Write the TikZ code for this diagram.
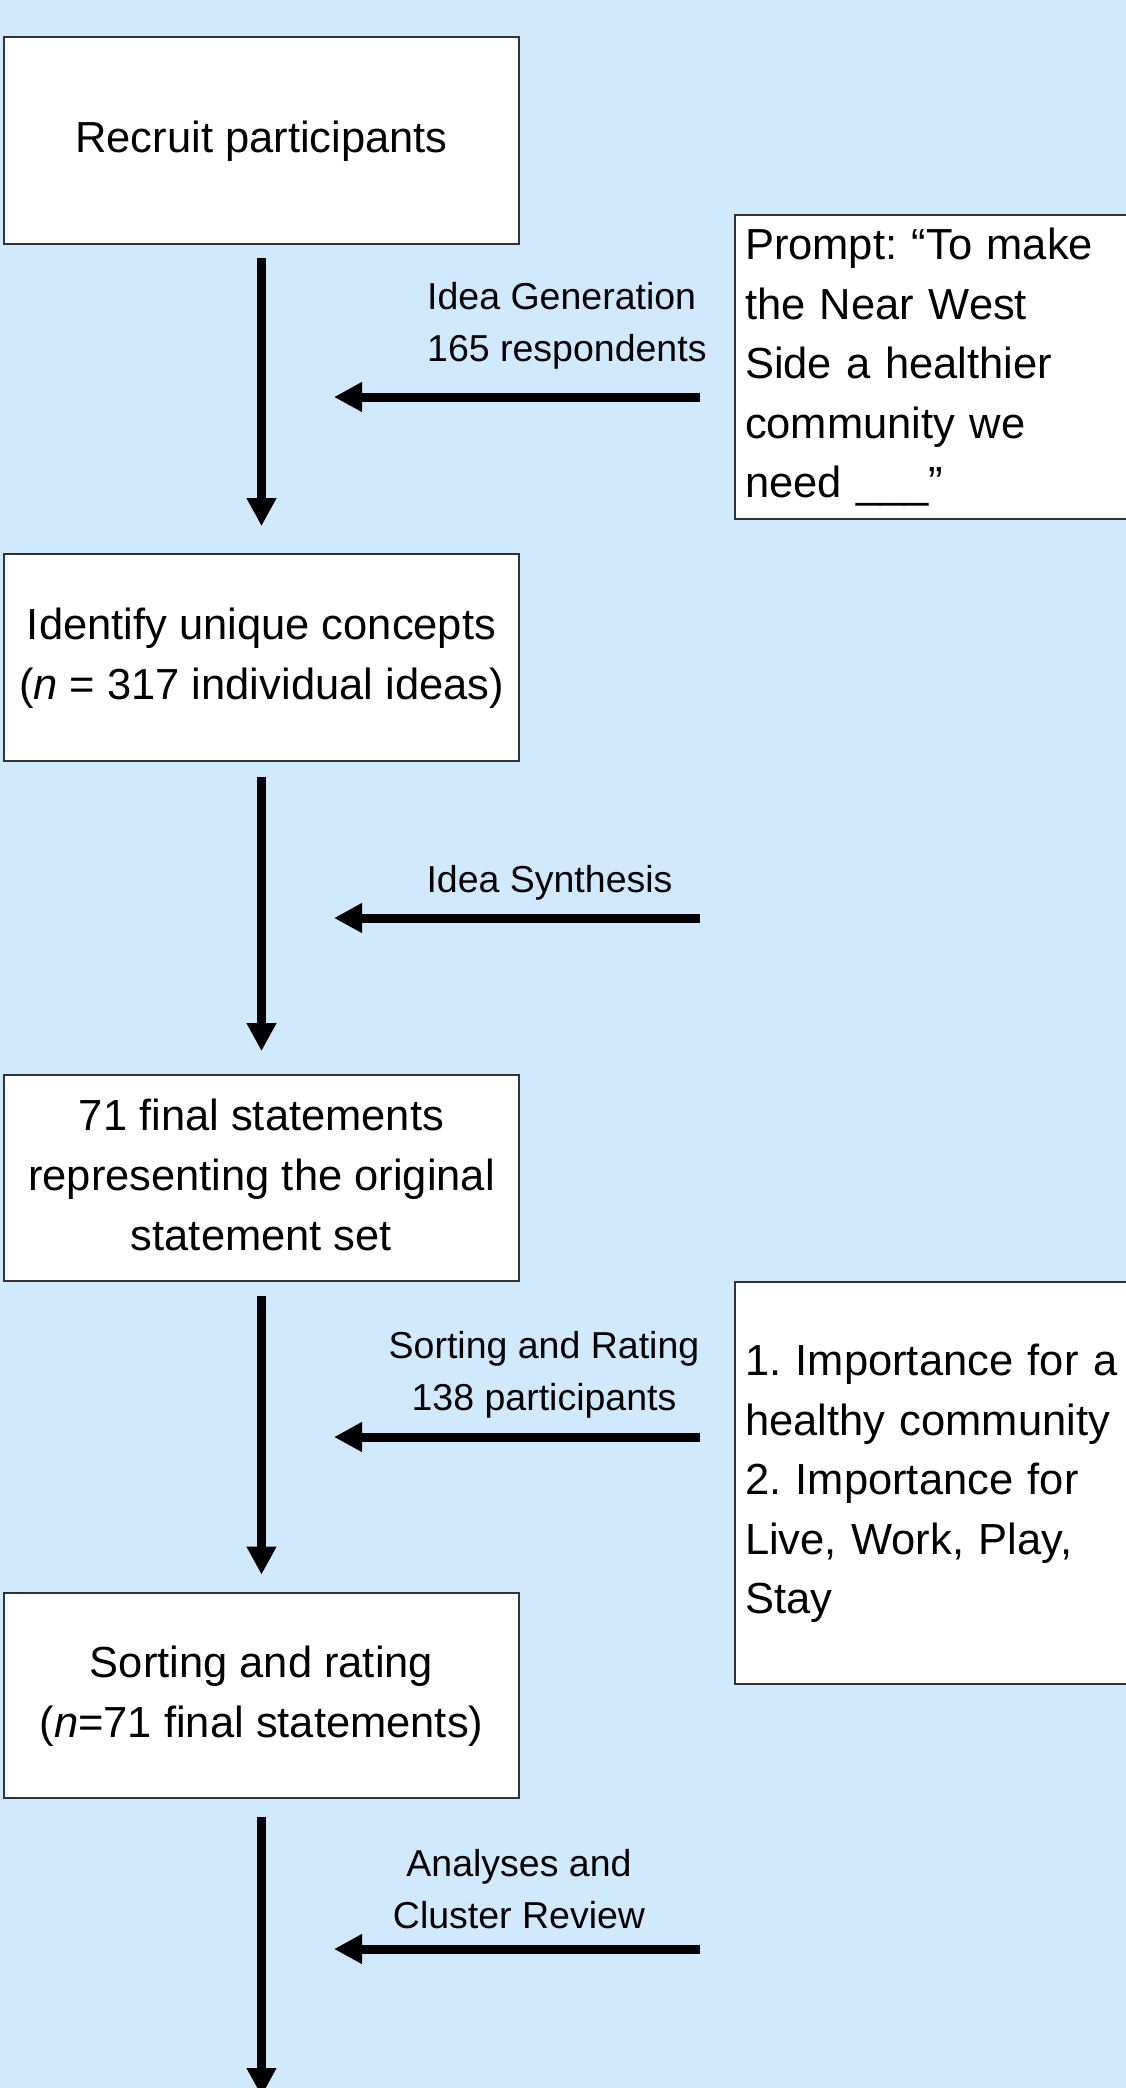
\documentclass[tikz,border=0pt]{standalone}
\usepackage{fontspec}
\setmainfont{Liberation Sans}
\usetikzlibrary{arrows.meta}
\definecolor{bg}{RGB}{208,233,252}
\newcommand{\boxfont}{\fontsize{43.5}{60}\selectfont}
\newcommand{\lblfont}{\fontsize{37.5}{52}\selectfont}
\newcommand{\sidefont}{\fontsize{43.5}{59.5}\selectfont}
\frenchspacing
\begin{document}
\begin{tikzpicture}[x=1pt,y=-1pt,
  stepbox/.style={draw=black!80, line width=1.8pt, fill=white, minimum width=515pt, inner sep=0pt, align=center, font=\boxfont},
  sidebox/.style={draw=black!80, line width=1.8pt, fill=white, inner xsep=10pt, inner ysep=0pt, text width=380pt, align=left, font=\sidefont},
  lbl/.style={inner sep=0pt, font=\lblfont},
  flow/.style={line width=9pt, -{Triangle[length=28pt,width=28pt]}}
]
\useasboundingbox (0,0) rectangle (1126,2088);
\fill[bg] (0,0) rectangle (1126,2088);
\clip (0,0) rectangle (1126,2088);

\node[stepbox, minimum height=207pt] (b1) at (261.5,140.5) {\strut Recruit participants};
\node[stepbox, minimum height=207pt] (b2) at (261.5,657.5) {\strut Identify unique concepts\\\strut(\textit{n} = 317 individual ideas)};
\node[stepbox, minimum height=206pt] (b3) at (261.5,1178) {\strut 71 final statements\\\strut representing the original\\\strut statement set};
\node[stepbox, minimum height=205pt] (b4) at (261.5,1695.5) {\strut Sorting and rating\\\strut(\textit{n}=71 final statements)};

\node[sidebox, minimum height=304pt] (prompt) at (935,367) {\strut Prompt: “To make\\\strut the Near West\\\strut Side a healthier\\\strut community we\\\strut need \_\_\_”};
\node[sidebox, minimum height=402pt] (crit) at (935,1483) {\strut 1. Importance for a\\\strut healthy community\\\strut 2. Importance for\\\strut Live, Work, Play,\\\strut Stay};

\node[lbl, anchor=west, align=left] (l1) at (427,324.6) {\strut Idea Generation\\\strut 165 respondents};
\node[lbl] (l2) at (549.5,881.6) {\strut Idea Synthesis};
\node[lbl, align=center] (l3) at (544,1373.6) {\strut Sorting and Rating\\\strut 138 participants};
\node[lbl, align=center] (l4) at (519,1891.6) {\strut Analyses and\\\strut Cluster Review};

\draw[flow] ([yshift=-13pt]b1.south) -- ([yshift=27pt]b2.north);
\draw[flow] ([yshift=-15pt]b2.south) -- ([yshift=23pt]b3.north);
\draw[flow] ([yshift=-14pt]b3.south) -- ([yshift=17.5pt]b4.north);
\coordinate (endpt) at (261.5,2096);
\draw[flow] ([yshift=-18pt]b4.south) -- (endpt);

\coordinate (h1s) at (700,397); \coordinate (h1e) at (334,397);
\coordinate (h2s) at (700,918); \coordinate (h2e) at (334,918);
\coordinate (h3s) at (700,1437); \coordinate (h3e) at (334,1437);
\coordinate (h4s) at (700,1949); \coordinate (h4e) at (334,1949);
\draw[flow] (h1s) -- (h1e);
\draw[flow] (h2s) -- (h2e);
\draw[flow] (h3s) -- (h3e);
\draw[flow] (h4s) -- (h4e);
\end{tikzpicture}
\end{document}
